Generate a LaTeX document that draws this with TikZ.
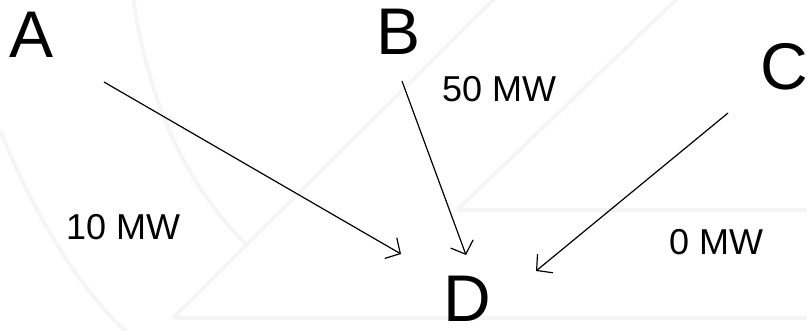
\documentclass[tikz,border=0pt]{standalone}
\usepackage{fontspec}
\setmainfont{Liberation Sans}
\usetikzlibrary{arrows.meta}
\begin{document}
\begin{tikzpicture}[x=1pt,y=-1pt,
  big/.style={font=\fontsize{66}{70}\selectfont,inner sep=0pt,anchor=base},
  lbl/.style={font=\fontsize{36}{40}\selectfont,inner sep=0pt,anchor=base west},
  flow/.style={draw=black,line width=1.2pt,-{Straight Barb[length=11pt,width=24pt]}},
  wm/.style={draw=black!4,line width=4pt}]
\useasboundingbox (0,0) rectangle (807,330);
% faint background watermark
\draw[wm] (0,130) .. controls (40,230) and (90,300) .. (127,332);
\draw[wm] (133,-2) .. controls (150,110) and (190,190) .. (247,245);
\draw[wm] (173,318) -- (495,-2);
\draw[wm] (457,210) -- (678,-2);
\draw[wm] (457,210) -- (810,210);
\draw[wm] (173,318) -- (810,318);
% labels
\node[big] (A) at (32,57) {A};
\node[big] (B) at (399,54) {B};
\node[big] (C) at (784,89) {C};
\node[big] (D) at (467,321) {D};
\node[lbl] (l10) at (66,239) {10 MW};
\node[lbl] (l50) at (442,101) {50 MW};
\node[lbl] (l0) at (669,254) {0 MW};
% arrow ends
\coordinate (a0) at (104,82);
\coordinate (a1) at (401,254);
\coordinate (b0) at (402,81);
\coordinate (b1) at (466,255);
\coordinate (c0) at (728,113);
\coordinate (c1) at (536,271);
\draw[flow] (a0) -- (a1);
\draw[flow] (b0) -- (b1);
\draw[flow] (c0) -- (c1);
\end{tikzpicture}
\end{document}
